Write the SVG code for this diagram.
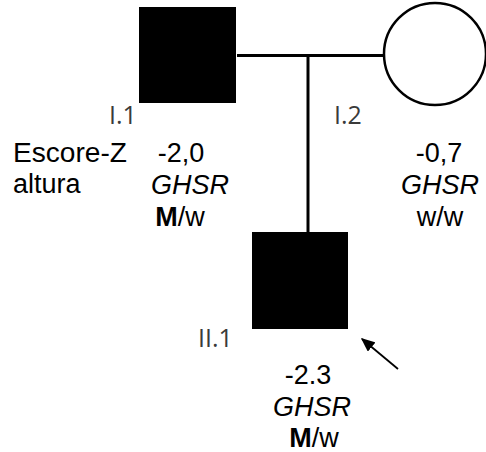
<svg xmlns="http://www.w3.org/2000/svg" width="486" height="452" viewBox="0 0 486 452">
<defs>
<style>
.t{font-family:"Liberation Sans",Arial,sans-serif;font-size:27px;fill:#000}
.c{text-anchor:middle}
.i{font-style:italic}
.b{font-weight:bold}
.lbl{font-family:"Open Sans","Liberation Sans",sans-serif;font-size:25px;fill:#3a3a3a}
.ln{stroke:#000;stroke-width:3;fill:none}
</style>
<marker id="ah" viewBox="0 0 10 10" refX="9" refY="5" markerWidth="14" markerHeight="12" markerUnits="userSpaceOnUse" orient="auto" preserveAspectRatio="none">
<path d="M0,0 L10,5 L0,10 z" fill="#000"/>
</marker>
</defs>
<rect width="486" height="452" fill="#fff"/>
<g id="connectors">
<line class="ln" x1="237" y1="55.5" x2="383" y2="55.5"/>
<line class="ln" x1="308" y1="55.5" x2="308" y2="232"/>
<line x1="398" y1="369" x2="362" y2="339" stroke="#000" stroke-width="1.8" marker-end="url(#ah)"/>
</g>
<g id="I1">
<rect x="139" y="7" width="97" height="96" fill="#000"/>
<text class="lbl" x="109" y="124">I.1</text>
<text class="t c" x="181" y="162">-2,0</text>
<text class="t c i" x="190" y="194">GHSR</text>
<text class="t c" x="180" y="226"><tspan class="b">M</tspan>/w</text>
</g>
<g id="I2">
<circle cx="435" cy="54" r="51" fill="#fff" stroke="#000" stroke-width="2.5"/>
<text class="lbl" x="334" y="124">I.2</text>
<text class="t c" x="439" y="162">-0,7</text>
<text class="t c i" x="440" y="194">GHSR</text>
<text class="t c" x="440" y="226">w/w</text>
</g>
<g id="II1">
<rect x="252" y="232" width="96" height="97" fill="#000"/>
<text class="lbl" x="198" y="347">II.1</text>
<text class="t c" x="308" y="384">-2.3</text>
<text class="t c i" x="312" y="416">GHSR</text>
<text class="t c" x="314" y="447"><tspan class="b">M</tspan>/w</text>
</g>
<g id="legend">
<text class="t" x="13" y="162" textLength="114" lengthAdjust="spacingAndGlyphs">Escore-Z</text>
<text class="t" x="13" y="193">altura</text>
</g>
</svg>
